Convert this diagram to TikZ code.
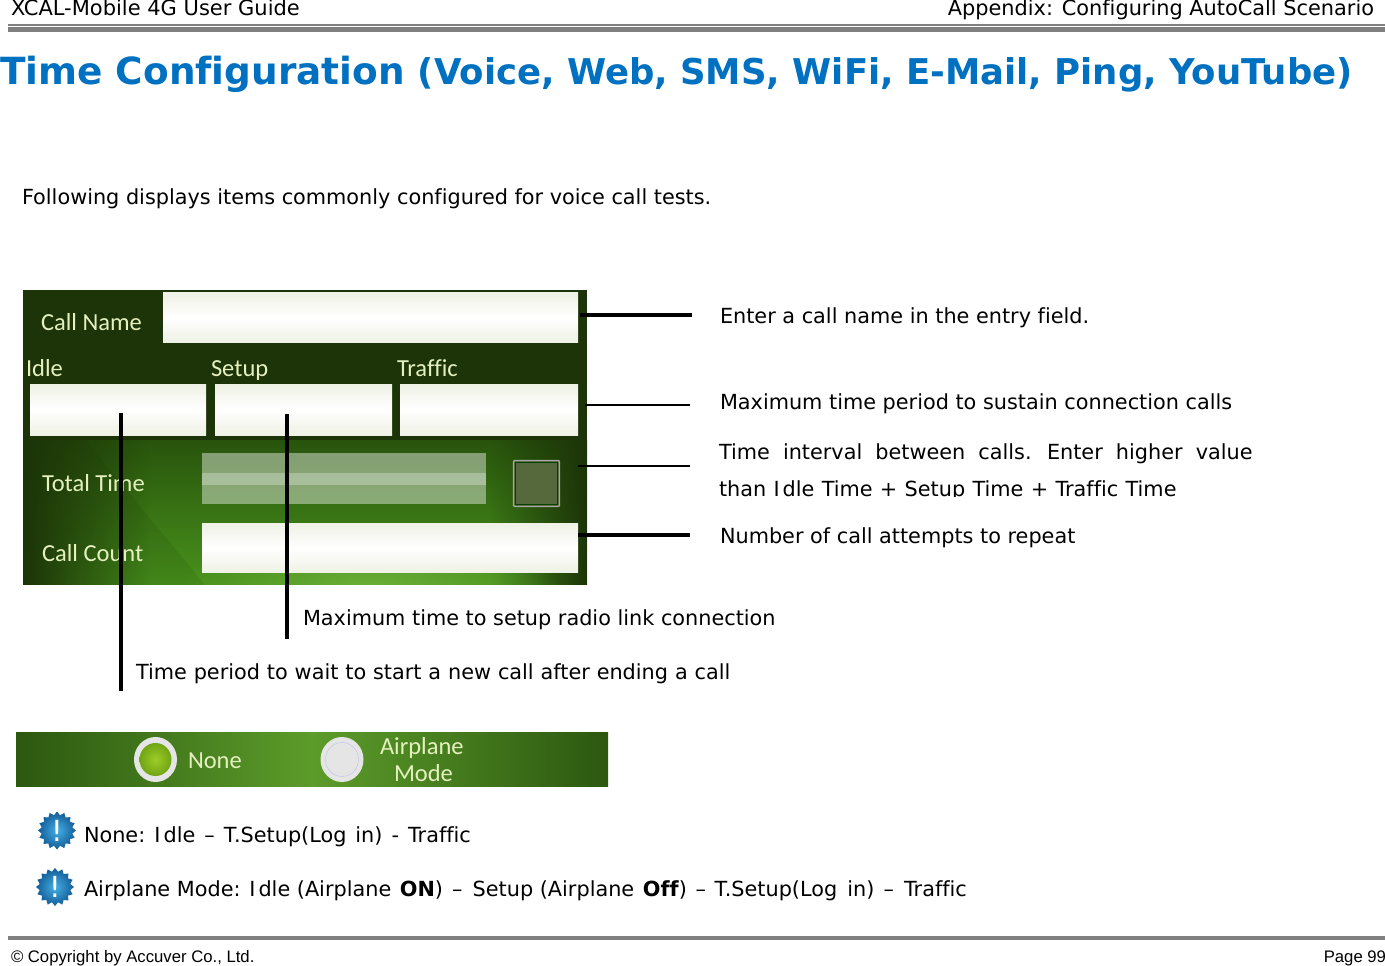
\documentclass[tikz,border=0pt]{standalone}
\usepackage{fontspec}
\usepackage{xcolor}
\setmainfont[Ligatures=NoCommon]{DejaVu Sans}
\newfontfamily\uifont{Carlito}[Ligatures=NoCommon]
\newfontfamily\footfont{Liberation Sans}
\usetikzlibrary{shapes.geometric,fadings}
\definecolor{titleblue}{RGB}{0,112,192}
\definecolor{rulegray}{RGB}{128,128,128}
\definecolor{paneldark}{RGB}{28,52,8}
\definecolor{panelmid}{RGB}{40,84,12}
\definecolor{panellow}{RGB}{72,146,28}
\definecolor{panelglow}{RGB}{108,176,56}
\definecolor{stripedge}{RGB}{44,88,16}
\definecolor{stripmid}{RGB}{92,156,42}
\definecolor{uitext}{RGB}{228,240,190}
\definecolor{fieldwhite}{RGB}{238,241,228}
\definecolor{iconlight}{RGB}{70,175,230}
\definecolor{icondark}{RGB}{18,92,150}
\definecolor{radiolight}{RGB}{158,205,40}
\definecolor{radiodark}{RGB}{112,165,20}
\tikzfading[name=glowfade,inner color=transparent!0,outer color=transparent!100]
\tikzset{
  body/.style={anchor=base west,inner sep=0pt,outer sep=0pt,text=black,font=\fontsize{20.8}{24}\selectfont},
  head/.style={anchor=base,inner sep=0pt,outer sep=0pt,text=black,font=\fontsize{21}{24}\selectfont},
  foot/.style={anchor=base,inner sep=0pt,outer sep=0pt,text=black,font=\footfont\fontsize{16.7}{20}\selectfont},
  ui/.style={anchor=base west,inner sep=0pt,outer sep=0pt,text=uitext,font=\uifont\fontsize{24.5}{28}\selectfont},
  callout/.style={draw=black,line width=#1},
  callout/.default=2.5pt,
  field/.style={top color=fieldwhite,bottom color=fieldwhite,middle color=white,draw=none},
  rulebar/.style={fill=rulegray,draw=none},
  noteicon/.style={star,star points=16,star point ratio=1.22,minimum size=38pt,inner sep=0pt,draw=none,inner color=iconlight,outer color=icondark,text=white,font=\fontsize{29}{29}\selectfont},
}
\begin{document}
\begin{tikzpicture}[x=1pt,y=-1pt]
\useasboundingbox (0,0) rectangle (1385,966);
% header and footer
\fill[rulebar] (8,24) rectangle (1385,25.6);
\fill[rulebar] (8,26.8) rectangle (1385,32);
\fill[rulebar] (8,936) rectangle (1385,939.5);
\node[head,anchor=base west] (hl) at (11,16) {XCAL-Mobile 4G User Guide};
\node[head,anchor=base east,font=\fontsize{20.85}{24}\selectfont] (hr) at (1374,16) {Appendix: Configuring AutoCall Scenario};
\node[foot,anchor=base west] (fl) at (11,962) {© Copyright by Accuver Co., Ltd.};
\node[foot,anchor=base east] (fr) at (1386,962) {Page 99};
\node[anchor=base west,inner sep=0pt,text=titleblue,font=\bfseries\fontsize{37.4}{40}\selectfont] (title) at (0,84.6)
  {Time Configuration {\fontsize{35.5}{40}\selectfont (Voice, Web, SMS, WiFi, E-Mail, Ping, YouTube)}};
\node[body] (intro) at (22,204) {Following displays items commonly configured for voice call tests.};

% main panel
\begin{scope}
\clip (23,290) rectangle (587,584.8);
\fill[paneldark] (23,290) rectangle (587,441);
\shade[top color=panelmid,bottom color=panellow] (23,440) rectangle (587,585);
\fill[paneldark,path fading=east] (23,440) rectangle (150,585);
\fill[paneldark,path fading=west] (490,440) rectangle (587,585);
\fill[paneldark,opacity=.12] (23,440) -- (85,440) -- (205,585) -- (23,585) -- cycle;
\fill[panelglow,path fading=glowfade] (370,590) ellipse [x radius=190,y radius=60];
\end{scope}
\fill[field] (163,292) rectangle (578,342.6);
\fill[field] (30,384) rectangle (206,435.6);
\fill[field] (215,384) rectangle (392,435.6);
\fill[field] (400,384) rectangle (578,435.6);
\fill[white,opacity=.42] (202,453) rectangle (486,504);
\fill[white,opacity=.28] (202,473) rectangle (486,485);
\filldraw[draw=white!65!black,fill={rgb,255:red,85;green,105;blue,60},line width=1.4pt,rounded corners=1pt] (513.5,460.5) rectangle (559.5,506.5);
\draw[black!75!green,line width=.8pt] (515.5,462.5) rectangle (557.5,504.5);
\fill[field] (202,523) rectangle (578,572.6);
\node[ui] (lname) at (41,330) {Call Name};
\node[ui] (lidle) at (26,376) {Idle};
\node[ui] (lsetup) at (211,376) {Setup};
\node[ui] (ltraffic) at (397,376) {Traffic};
\node[ui] (ltotal) at (42,491) {Total Time};
\node[ui] (lcount) at (42,561) {Call Count};

% callout labels
\node[body] (t1) at (720,323) {Enter a call name in the entry field.};
\node[body] (t2) at (720,409) {Maximum time period to sustain connection calls};
\node[body] (t3) at (719,459) {Time\hspace{6.5pt} interval\hspace{6.5pt} between\hspace{6.5pt} calls.\hspace{6.5pt} Enter\hspace{6.5pt} higher\hspace{6.5pt} value};
\node[body] (t4) at (719,496) {\spaceskip=7.3pt than I\kern3pt dle Time + Setup Time + Traffic Time};
\fill[white] (715,497) rectangle (1260,505);
\node[body] (t5) at (720,543) {Number of call attempts to repeat};
\node[body] (t6) at (303,625) {Maximum time to setup radio link connection};
\node[body] (t7) at (136,679) {\spaceskip=6.9pt Time period to wait to start a new call after ending a call};

\coordinate (c1a) at (580,315); \coordinate (c1b) at (692,315);
\coordinate (c2a) at (585,405); \coordinate (c2b) at (690,405);
\coordinate (c3a) at (578,466); \coordinate (c3b) at (690,466);
\coordinate (c4a) at (578,535); \coordinate (c4b) at (690,535);
\coordinate (c5a) at (287,414); \coordinate (c5b) at (287,639);
\coordinate (c6a) at (121,413); \coordinate (c6b) at (121,691);
\draw[callout=3.2pt] (c1a) -- (c1b);
\draw[callout=2.4pt] (c2a) -- (c2b);
\draw[callout=2.8pt] (c3a) -- (c3b);
\draw[callout=3.2pt] (c4a) -- (c4b);
\draw[callout=3.2pt] (c5a) -- (c5b);
\draw[callout=3.2pt] (c6a) -- (c6b);

% mode strip
\shade[left color=stripedge,right color=stripedge,middle color=stripmid] (16,732) rectangle (608,786.6);
\node[ellipse,minimum width=43pt,minimum height=45pt,inner sep=0pt,draw=none,fill=white!90!black] (rnone) at (155.5,759.5) {};
\node[ellipse,minimum width=32pt,minimum height=33pt,inner sep=0pt,draw=none,inner color=radiolight,outer color=radiodark] (rnonei) at (155.5,759.5) {};
\node[ellipse,minimum width=43pt,minimum height=45pt,inner sep=0pt,draw=none,fill=white!90!black] (rair) at (342,759.5) {};
\node[ellipse,minimum width=33pt,minimum height=34pt,inner sep=0pt,draw=black!30!blue!25!white,fill=white!90!black] (rairi) at (342,759.5) {};
\node[ui] (mnone) at (188,768) {None};
\node[ui] (mair) at (380,754) {Airplane};
\node[ui] (mmode) at (394,781) {Mode};

% notes
\node[noteicon] (i1) at (57,830.5) {!};
\node[noteicon] (i2) at (55,887) {!};
\node[body] (n1) at (84,842) {\spaceskip=9pt None:\kern-2pt{} I\kern3pt dle – T.Setup(Log in) - Traffic};
\node[body] (n2) at (84,896) {Airplane Mode: I\kern3pt dle (Airplane\kern2pt{} \textbf{ON}) \kern2.5pt–\kern3.5pt{} Setup (Airplane\kern2pt{} \textbf{Off}) \kern2pt–\kern2pt{} T.Setup(Log\kern3.5pt{} in) \kern2.5pt–\kern3.5pt{} Traffic};
\end{tikzpicture}
\end{document}
